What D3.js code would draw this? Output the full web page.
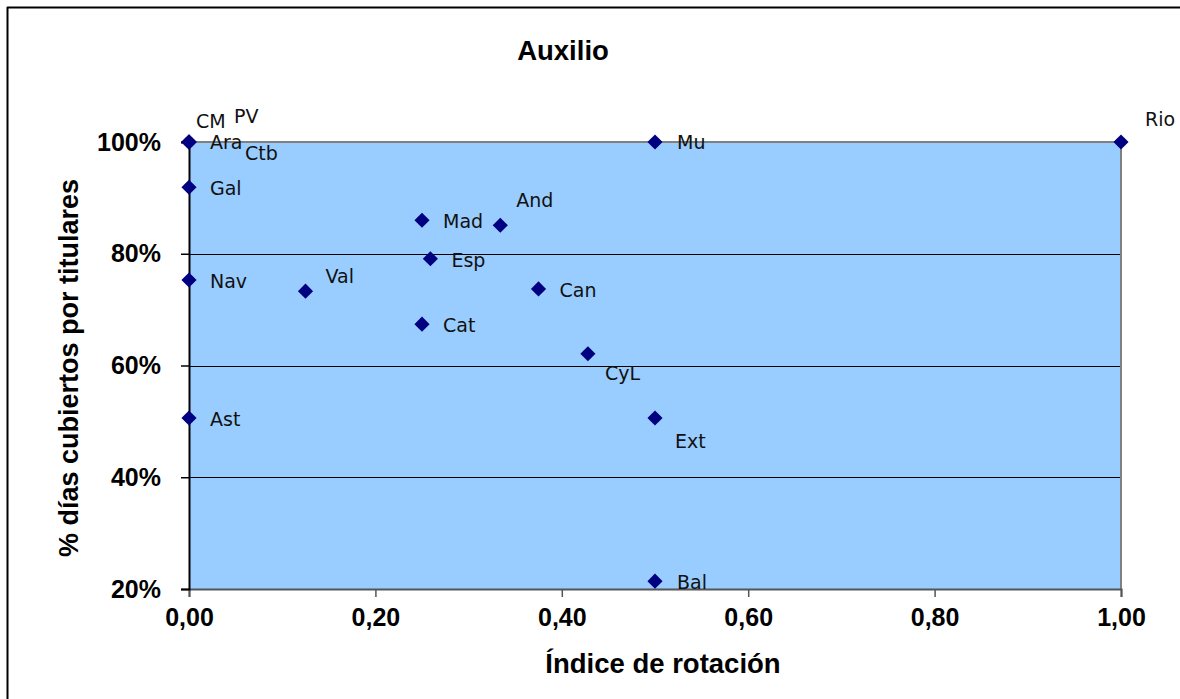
<!DOCTYPE html>
<html>
<head>
<meta charset="utf-8">
<script src="https://cdn.jsdelivr.net/npm/d3@7"></script>
<style>
  html, body { margin: 0; padding: 0; background: #fff; overflow: hidden; }
  svg { display: block; }
</style>
</head>
<body>
<svg id="chart" width="1180" height="699"></svg>
<script>
// ---- Data ----
const chartTitle = "Auxilio";
const xTitle = "Índice de rotación";
const yTitle = "% días cubiertos por titulares";
const regions   = ["CM", "PV", "Ara", "Ctb", "Gal", "Nav", "Ast", "Val", "Mad", "And", "Esp", "Can", "Cat", "CyL", "Mu", "Ext", "Bal", "Rio"];
const rotacion  = [0, 0, 0, 0, 0, 0, 0, 0.125, 0.25, 0.334, 0.259, 0.375, 0.25, 0.428, 0.5, 0.5, 0.5, 1.0];
const cubiertos = [1, 1, 1, 1, 0.919, 0.753, 0.506, 0.733, 0.860, 0.851, 0.791, 0.737, 0.674, 0.621, 1, 0.506, 0.214, 1];
const xTicks = [0, 0.2, 0.4, 0.6, 0.8, 1.0];
const yTicks = [0.2, 0.4, 0.6, 0.8, 1.0];
const gridValues = [0.4, 0.6, 0.8];

// ---- Layout (label placement relative to each marker) ----
const labelOffset = {
  CM: [7, -21], PV: [45, -26], Ara: [21, 0], Ctb: [56, 11], Gal: [21, 1], Nav: [21, 1], Ast: [21, 1],
  Val: [20, -15], Mad: [21, 1], And: [16, -25], Esp: [21, 1], Can: [21, 1], Cat: [21, 1],
  CyL: [17, 19], Mu: [22, 0], Ext: [20, 23], Bal: [22, 1], Rio: [24, -23]
};

const svg = d3.select("#chart");
const W = 1180, H = 699;
const plot = { left: 189, right: 1121, top: 142, bottom: 589 };

// outer frame (only top & left edges visible)
svg.append("line").attr("x1", 7).attr("x2", W).attr("y1", 7.5).attr("y2", 7.5)
  .attr("stroke", "#000").attr("stroke-width", 2);
svg.append("line").attr("x1", 7.5).attr("x2", 7.5).attr("y1", 7).attr("y2", H)
  .attr("stroke", "#000").attr("stroke-width", 2);

const x = d3.scaleLinear().domain([0, 1]).range([plot.left, plot.right]);
const y = d3.scaleLinear().domain([0.2, 1.0]).range([plot.bottom, plot.top]);

// plot area
svg.append("rect")
  .attr("x", x(0)).attr("y", y(1))
  .attr("width", x(1) - x(0)).attr("height", y(0.2) - y(1))
  .attr("fill", "#99CCFF");

// gridlines
svg.append("g").selectAll("line").data(gridValues).join("line")
  .attr("x1", x(0)).attr("x2", x(1))
  .attr("y1", d => Math.round(y(d)) + 0.5).attr("y2", d => Math.round(y(d)) + 0.5)
  .attr("stroke", "#000").attr("stroke-width", 1);

// top & right borders
svg.append("path")
  .attr("d", `M${x(0)},${y(1)}H${x(1)}V${y(0.2)}`)
  .attr("fill", "none").attr("stroke", "#808080").attr("stroke-width", 2);

// axes
const fmtX = d => d3.format(".2f")(d).replace(".", ",");
const fmtY = d => Math.round(d * 100) + "%";

const xAxis = svg.append("g")
  .attr("transform", `translate(0,${y(0.2)})`)
  .call(d3.axisBottom(x).tickValues(xTicks).tickFormat(fmtX).tickSize(8).tickPadding(11));
xAxis.select(".domain").attr("stroke", "#555").attr("stroke-width", 2);
xAxis.selectAll(".tick line").attr("stroke", "#555").attr("stroke-width", 1.5);
xAxis.selectAll(".tick text")
  .attr("font-family", "'Liberation Sans', Arial, sans-serif")
  .attr("font-weight", "bold").attr("font-size", 25).attr("fill", "#000");

const yAxis = svg.append("g")
  .attr("transform", `translate(${x(0)},0)`)
  .call(d3.axisLeft(y).tickValues(yTicks).tickFormat(fmtY).tickSize(8).tickPadding(20));
yAxis.select(".domain").attr("stroke", "#000").attr("stroke-width", 2);
yAxis.selectAll(".tick line").attr("stroke", "#000").attr("stroke-width", 1.5);
yAxis.selectAll(".tick text")
  .attr("font-family", "'Liberation Sans', Arial, sans-serif")
  .attr("font-weight", "bold").attr("font-size", 25).attr("fill", "#000");

// markers
const points = regions.map((r, i) => ({ name: r, x: rotacion[i], y: cubiertos[i] }));
svg.append("g").selectAll("path").data(points).join("path")
  .attr("d", d3.symbol().type(d3.symbolSquare).size(115))
  .attr("transform", d => `translate(${x(d.x)},${y(d.y)}) rotate(45)`)
  .attr("fill", "#000080");

// labels
svg.append("g").selectAll("text").data(points).join("text")
  .attr("x", d => x(d.x) + labelOffset[d.name][0])
  .attr("y", d => y(d.y) + labelOffset[d.name][1])
  .attr("dy", "0.36em")
  .attr("font-family", "'DejaVu Sans', Verdana, sans-serif")
  .attr("font-size", 19)
  .attr("fill", "#111")
  .text(d => d.name);

// titles
svg.append("text")
  .attr("x", 563).attr("y", 50).attr("dy", "0.36em")
  .attr("text-anchor", "middle")
  .attr("font-family", "'Liberation Sans', Arial, sans-serif")
  .attr("font-weight", "bold").attr("font-size", 27.5)
  .text(chartTitle);

svg.append("text")
  .attr("x", 663).attr("y", 663).attr("dy", "0.36em")
  .attr("text-anchor", "middle")
  .attr("font-family", "'Liberation Sans', Arial, sans-serif")
  .attr("font-weight", "bold").attr("font-size", 27.5)
  .text(xTitle);

svg.append("text")
  .attr("transform", `translate(68,368) rotate(-90)`)
  .attr("dy", "0.36em")
  .attr("text-anchor", "middle")
  .attr("font-family", "'Liberation Sans', Arial, sans-serif")
  .attr("font-weight", "bold").attr("font-size", 27)
  .text(yTitle);
</script>
</body>
</html>
